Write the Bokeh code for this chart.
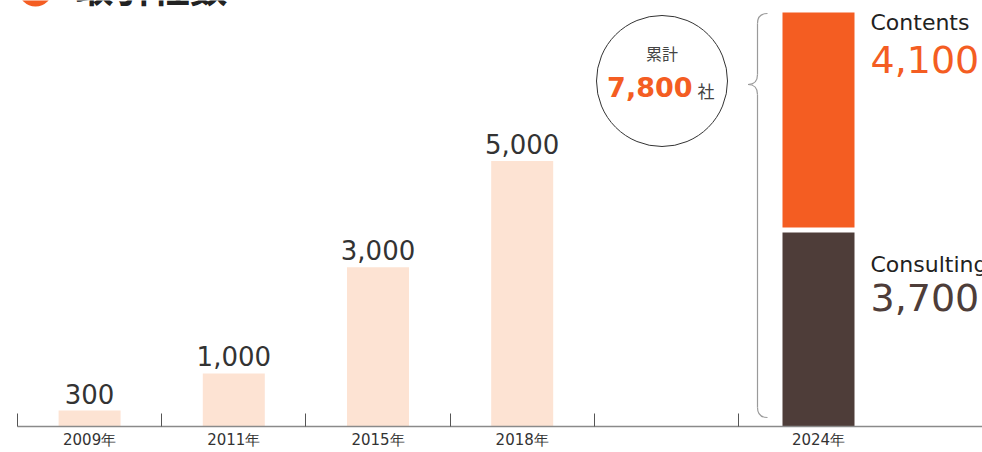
from bokeh.plotting import figure
from bokeh.models import Range1d, FixedTicker, LinearAxis
from bokeh.core.properties import value
from bokeh.embed import file_html
from bokeh.resources import INLINE

# ---- data ----
years = ["2009年", "2011年", "2015年", "2018年"]
counts = [300, 1000, 3000, 5000]
year_2024 = "2024年"
consulting = 3700
contents = 4100
series_names = ["Consulting", "Contents"]
title_text = "取引社数"
total_word = "累計"
unit_word = "社"

# ---- layout ----
W, H = 982, 452
LEFT, BOTTOM = 17, 26
FRAME_H = H - BOTTOM
SX = 144.2                      # px per slot
total = consulting + contents
SY = (FRAME_H - 12) / total     # px per unit

def X(px):
    return (px - LEFT) / SX

def Y(py):
    return (FRAME_H - py) / SY

ORANGE = "#F45D22"
BROWN = "#4E3D39"
PEACH = "#FDE3D3"
NUMFONT = value("DejaVu Sans")
CJK = value("Noto Sans CJK JP")

p = figure(width=W, height=H, output_backend="svg", toolbar_location=None,
           x_range=Range1d(0, (W - LEFT) / SX), y_range=Range1d(0, FRAME_H / SY),
           min_border_left=LEFT, min_border_right=0, min_border_top=0,
           min_border_bottom=BOTTOM, x_axis_type=None, y_axis_type=None)
p.outline_line_color = None
p.background_fill_color = "white"
p.border_fill_color = "white"

centers = [i + 0.5 for i in range(len(years))]
x24 = X(818)                    # 2024 slot center
bw = 62 / SX
bw24 = 72 / SX

# bars
p.vbar(x=centers, top=counts, bottom=0, width=bw, fill_color=PEACH, line_color=None)
p.vbar(x=[x24], bottom=[0], top=[consulting], width=bw24, fill_color=BROWN, line_color=None)
p.vbar(x=[x24], bottom=[consulting], top=[total], width=bw24, fill_color=ORANGE, line_color=None)
p.segment(x0=[x24 - bw24], x1=[x24 + bw24], y0=[consulting], y1=[consulting],
          line_color="white", line_width=5)

# value labels (anchor = glyph centre)
p.text(x=centers, y=counts, text=[f"{v:,}" for v in counts], text_align="center",
       text_baseline="middle", y_offset=-17, text_font=NUMFONT,
       text_font_size="26px", text_color="#333333")

# 2024 side labels
xl = x24 + (870 - 818) / SX
p.text(x=[xl], y=[total], text=[series_names[1]], text_align="left",
       text_baseline="middle", y_offset=10, text_font=NUMFONT,
       text_font_size="22px", text_color="#222222")
p.text(x=[xl], y=[total], text=[f"{contents:,}"], text_align="left",
       text_baseline="middle", y_offset=46.5, text_font=NUMFONT,
       text_font_size="38px", text_color=ORANGE)
p.text(x=[xl], y=[consulting], text=[series_names[0]], text_align="left",
       text_baseline="middle", y_offset=34, text_font=NUMFONT,
       text_font_size="22px", text_color="#222222")
p.text(x=[xl], y=[consulting], text=[f"{consulting:,}"], text_align="left",
       text_baseline="middle", y_offset=67, text_font=NUMFONT,
       text_font_size="38px", text_color=BROWN)

# total circle
p.scatter(x=[X(661.5)], y=[Y(80.5)], size=131, marker="circle",
          fill_color="white", line_color="#333333", line_width=1)
p.text(x=[X(661.5)], y=[Y(52.5)], text=[total_word], text_align="center",
       text_baseline="middle", text_font=CJK, text_font_size="16px", text_color="#444444")
p.text(x=[X(692)], y=[Y(86)], text=[f"{total:,}"], text_align="right",
       text_baseline="middle", text_font=NUMFONT, text_font_style="bold",
       text_font_size="27px", text_color=ORANGE)
p.text(x=[X(697)], y=[Y(90)], text=[unit_word], text_align="left",
       text_baseline="middle", text_font=CJK, text_font_size="17px", text_color="#444444")

# brace
bc = "#9a9a9a"
xv, xt, xe = X(757), X(747.5), X(767)
yt, ym, yb = Y(13), Y(84), Y(417)
dy = 10 / SY
p.quadratic(x0=[xe, xv, xt, xv], y0=[yt, ym + dy, ym, yb + dy],
            x1=[xv, xt, xv, xe], y1=[yt - dy, ym, ym - dy, yb],
            cx=[xv, xv, xv, xv], cy=[yt, ym, ym, yb],
            line_color=bc, line_width=1.2)
p.segment(x0=[xv, xv], x1=[xv, xv], y0=[yt - dy, ym - dy], y1=[ym + dy, yb + dy],
          line_color=bc, line_width=1.2)

# title (mostly cut off at the top)
p.scatter(x=[X(35)], y=[Y(-11)], size=34, marker="circle", fill_color=ORANGE, line_color=None)
p.text(x=[X(75)], y=[Y(-15)], text=[title_text], text_align="left",
       text_baseline="middle", text_font=CJK, text_font_style="bold",
       text_font_size="38px", text_color="#222222")

# axis: line, slot ticks and year labels
tick_pos = centers + [x24]
ax = LinearAxis(ticker=FixedTicker(ticks=tick_pos, minor_ticks=[0, 1, 2, 3, 4, 5]))
ax.major_label_overrides = {t: lab for t, lab in zip(tick_pos, years + [year_2024])}
ax.major_tick_in = 0
ax.major_tick_out = 0
ax.major_tick_line_color = None
ax.minor_tick_in = 13
ax.minor_tick_out = 0
ax.minor_tick_line_color = "#555555"
ax.minor_tick_line_width = 1
ax.axis_line_color = "#8a8a8a"
ax.axis_line_width = 1.5
ax.major_label_standoff = 4
ax.major_label_text_font = "DejaVu Sans"
ax.major_label_text_font_size = "15px"
ax.major_label_text_color = "#333333"
p.add_layout(ax, "below")

open("out.html", "w").write(file_html(p, INLINE))
